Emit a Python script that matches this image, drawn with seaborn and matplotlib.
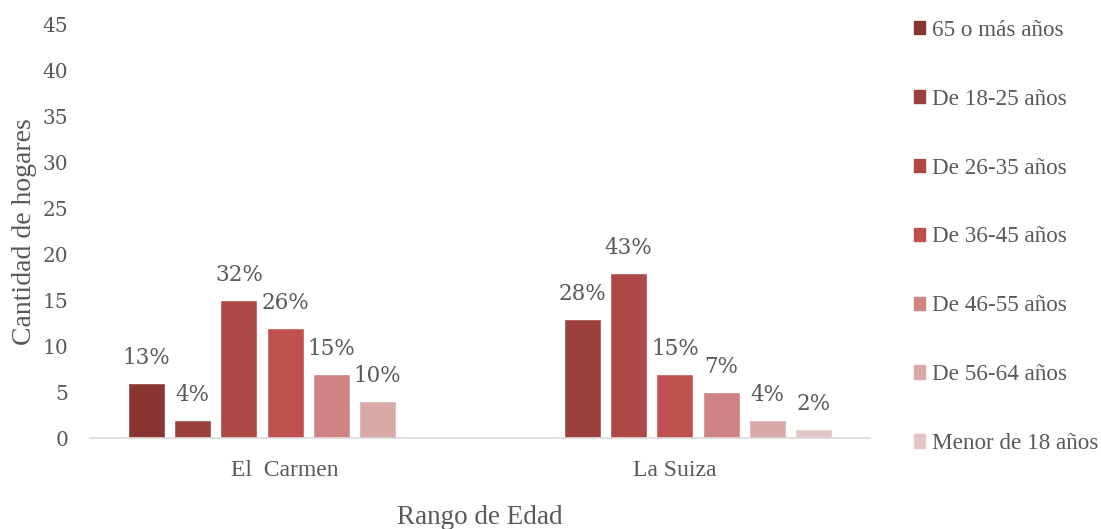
import pandas as pd
import matplotlib.pyplot as plt
import matplotlib.patches as mpatches
import seaborn as sns

# data
sitios = ["El  Carmen", "La Suiza"]
rangos = ["65 o más años", "De 18-25 años", "De 26-35 años", "De 36-45 años",
          "De 46-55 años", "De 56-64 años", "Menor de 18 años"]
el_carmen = [6, 2, 15, 12, 7, 4, 0]
la_suiza = [0, 13, 18, 7, 5, 2, 1]
pct_el_carmen = ["13%", "4%", "32%", "26%", "15%", "10%", ""]
pct_la_suiza = ["", "28%", "43%", "15%", "7%", "4%", "2%"]
colores = ["#893532", "#9c403d", "#ae4846", "#c0504d", "#cd8482", "#d9a9a8", "#e4c6c6"]

rows = []
for r, a, b in zip(rangos, el_carmen, la_suiza):
    rows.append({"Sitio": sitios[0], "Rango": r, "Hogares": a})
    rows.append({"Sitio": sitios[1], "Rango": r, "Hogares": b})
df = pd.DataFrame(rows)

sns.set_theme(style="white")
plt.rcParams['font.family'] = ['Liberation Serif', 'DejaVu Serif']
gris = "#595959"

fig = plt.figure(figsize=(11.01, 5.29), dpi=100)
ax = fig.add_axes([0.082, 0.172, 0.708, 0.781])

sns.barplot(data=df, x="Sitio", y="Hogares", hue="Rango", hue_order=rangos,
            order=sitios, palette=colores, width=0.83, gap=0.2,
            saturation=1, legend=False, ax=ax)

# percentage labels above bars
for i, cont in enumerate(ax.containers):
    labs = [pct_el_carmen[i], pct_la_suiza[i]]
    ax.bar_label(cont, labels=labs, padding=10, fontsize=15.5,
                 color=gris, family="DejaVu Serif")

ax.set_ylim(0, 45)
ax.set_xlim(-0.5, 1.5)
ax.set_yticks(range(0, 46, 5))
ax.tick_params(axis='y', length=0, pad=16, labelsize=14.5, labelcolor=gris,
               labelfontfamily="DejaVu Serif")
ax.tick_params(axis='x', length=0, pad=16, labelsize=17, labelcolor=gris)

for s in ["top", "right", "left"]:
    ax.spines[s].set_visible(False)
ax.spines["bottom"].set_color("#d9d9d9")
ax.spines["bottom"].set_linewidth(1.2)

ax.set_xlabel("Rango de Edad", fontsize=19.5, color=gris, labelpad=17)
ax.set_ylabel("Cantidad de hogares", fontsize=20, color=gris, labelpad=4)

handles = [mpatches.Patch(color=c, label=r) for c, r in zip(colores, rangos)]
fig.legend(handles=handles, loc="center left", bbox_to_anchor=(0.830, 0.552),
           frameon=False, fontsize=16.7, labelcolor=gris, labelspacing=2.065,
           handlelength=0.5, handleheight=0.5, handletextpad=0.3,
           borderaxespad=0, borderpad=0)

plt.savefig("out.png", dpi=100)
plt.close()
